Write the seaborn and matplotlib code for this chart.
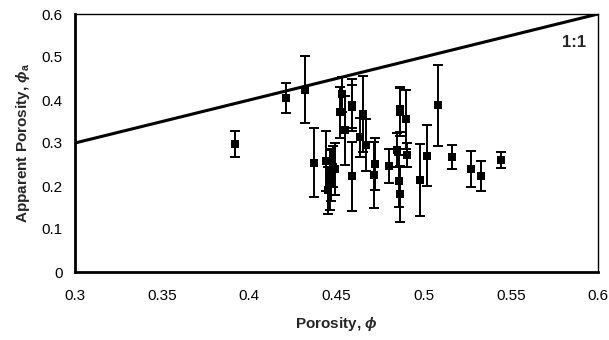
import matplotlib
matplotlib.use("Agg")
import matplotlib.pyplot as plt
import seaborn as sns
import pandas as pd

porosity = [0.392, 0.421, 0.432, 0.437, 0.444, 0.445, 0.446, 0.447, 0.448, 0.449,
            0.452, 0.453, 0.455, 0.459, 0.459, 0.459, 0.4635, 0.4654, 0.467, 0.4715,
            0.472, 0.480, 0.4845, 0.4865, 0.4865, 0.486, 0.4865, 0.490, 0.4907, 0.498,
            0.502, 0.508, 0.516, 0.527, 0.533, 0.5444]
apparent = [0.297, 0.404, 0.424, 0.254, 0.258, 0.19, 0.214, 0.225, 0.245, 0.24,
            0.371, 0.413, 0.330, 0.223, 0.384, 0.388, 0.313, 0.367, 0.295, 0.226,
            0.251, 0.246, 0.284, 0.378, 0.372, 0.212, 0.181, 0.355, 0.273, 0.214,
            0.270, 0.388, 0.268, 0.2395, 0.223, 0.260]
error = [0.030, 0.035, 0.078, 0.080, 0.070, 0.055, 0.070, 0.060, 0.048, 0.060,
         0.060, 0.040, 0.080, 0.080, 0.050, 0.060, 0.045, 0.088, 0.060, 0.077,
         0.060, 0.040, 0.040, 0.053, 0.055, 0.060, 0.065, 0.068, 0.028, 0.083,
         0.071, 0.094, 0.028, 0.041, 0.035, 0.019]
line_x = [0.3, 0.6]
line_y = [0.3, 0.6]
x_ticks = [0.3, 0.35, 0.4, 0.45, 0.5, 0.55, 0.6]
y_ticks = [0, 0.1, 0.2, 0.3, 0.4, 0.5, 0.6]

df = pd.DataFrame({"porosity": porosity, "apparent": apparent, "error": error})

sns.set_style("white")
plt.rcParams["font.family"] = ["Liberation Sans", "DejaVu Sans"]
plt.rcParams["mathtext.fontset"] = "custom"
plt.rcParams["mathtext.it"] = "Liberation Sans:italic:bold"
plt.rcParams["mathtext.rm"] = "Liberation Sans:bold"

fig = plt.figure(figsize=(6.09, 3.40), dpi=100)
ax = fig.add_axes([75/609, 1 - 272/340, (598-75)/609, (272-14)/340])

sns.lineplot(x=line_x, y=line_y, ax=ax, color="black", linewidth=2.2)
ax.errorbar(df["porosity"], df["apparent"], yerr=df["error"], fmt="none",
            ecolor="black", elinewidth=1.4, capsize=3.8, capthick=1.4, zorder=3)
sns.scatterplot(data=df, x="porosity", y="apparent", ax=ax, marker="s", s=32,
                color="black", edgecolor="black", linewidth=0, zorder=4)

ax.text(0.586, 0.533, "1:1", ha="center", va="center", fontsize=12, fontweight="bold")

ax.set_xlim(0.3, 0.6)
ax.set_ylim(0, 0.6)
ax.set_xticks(x_ticks)
ax.set_xticklabels(["0.3", "0.35", "0.4", "0.45", "0.5", "0.55", "0.6"])
ax.set_yticks(y_ticks)
ax.set_yticklabels(["0", "0.1", "0.2", "0.3", "0.4", "0.5", "0.6"])
ax.tick_params(axis="both", direction="inout", length=6, width=1.5, labelsize=11,
               colors="black", pad=6)
ax.tick_params(axis="x", pad=9)

for side in ["left", "bottom"]:
    ax.spines[side].set_linewidth(2)
    ax.spines[side].set_color("black")
for side in ["top", "right"]:
    ax.spines[side].set_linewidth(1)
    ax.spines[side].set_color("black")

ax.set_xlabel(r"Porosity, $\phi$", fontsize=11, fontweight="bold", labelpad=9)
ax.set_ylabel(r"Apparent Porosity, $\phi_\mathrm{a}$", fontsize=11, fontweight="bold", labelpad=7)

fig.savefig("out.png", dpi=100)
